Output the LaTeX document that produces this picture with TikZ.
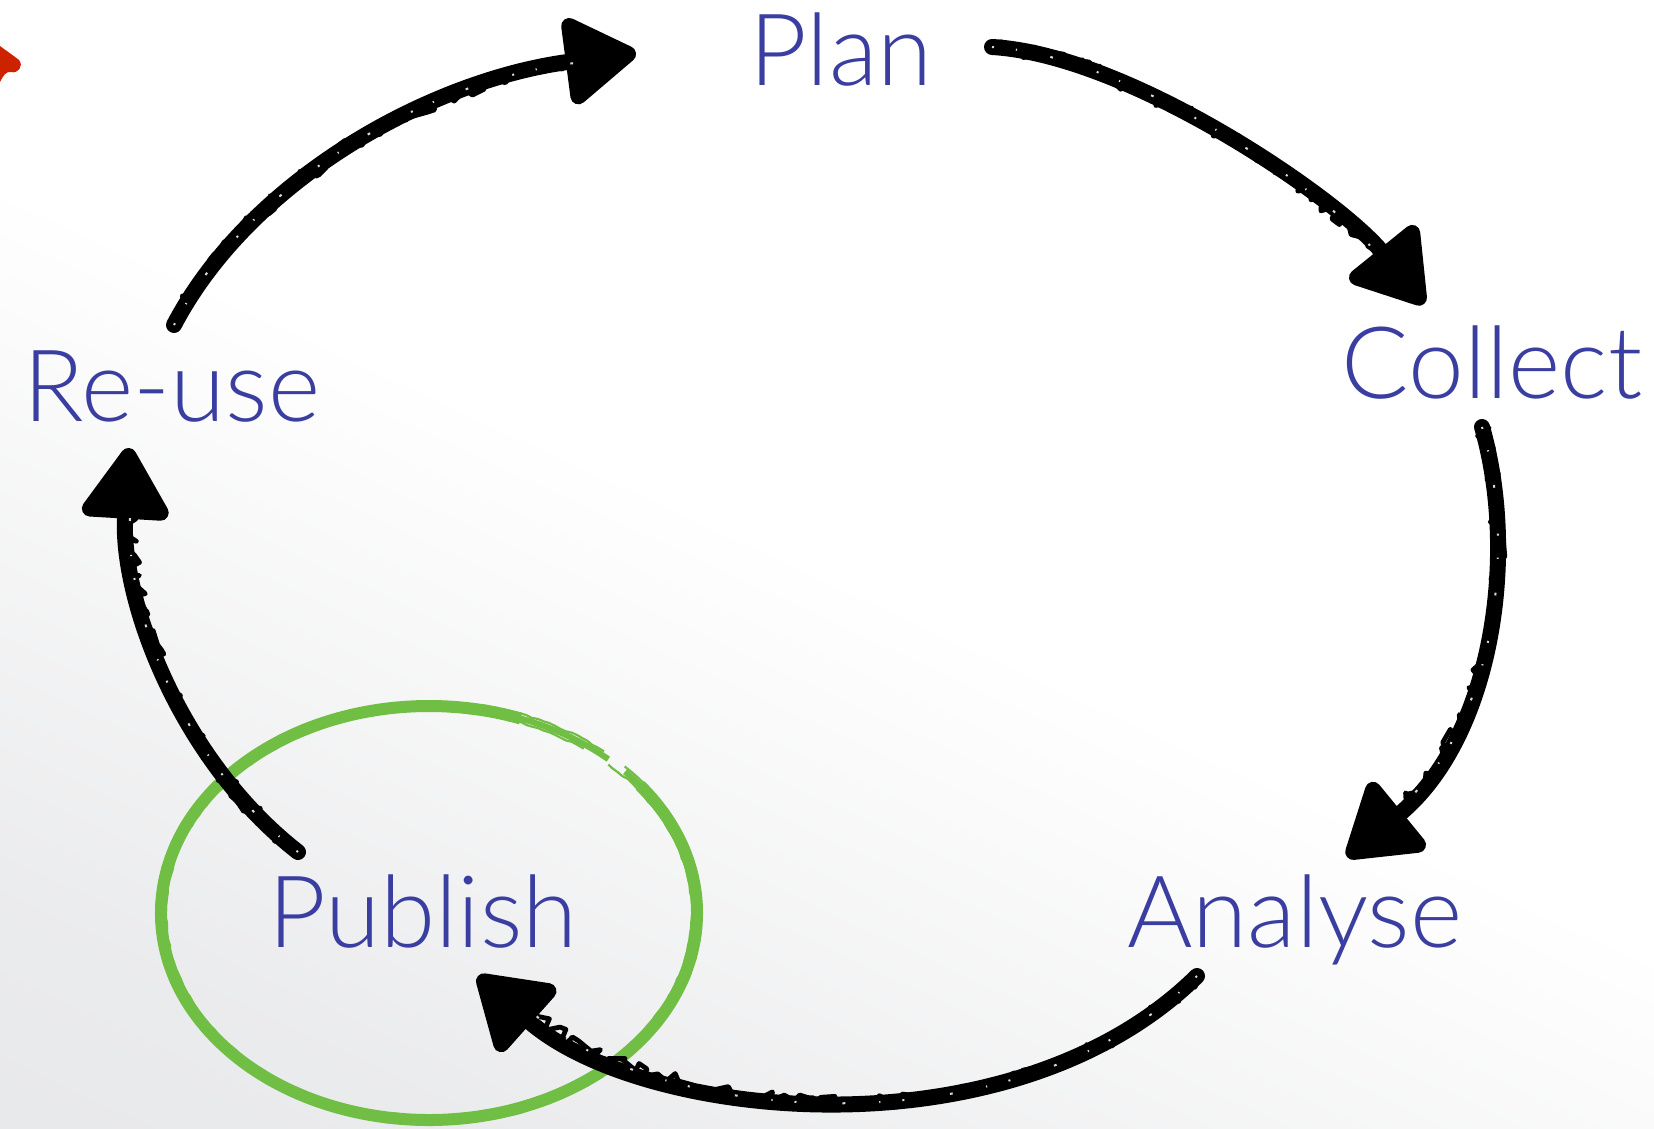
\documentclass[tikz,border=0pt]{standalone}
\usepackage{fontspec}
\IfFontExistsTF{Lato Light}{\setmainfont{Lato Light}}{\setmainfont{Lato}}
\usetikzlibrary{arrows.meta,decorations.pathmorphing}

\definecolor{labelblue}{RGB}{58,62,160}
\definecolor{markgreen}{RGB}{112,190,68}
\definecolor{markred}{RGB}{204,34,0}
\definecolor{bggray}{RGB}{226,227,229}

% backdrop: grey in the lower part, white above
\pgfdeclareverticalshading{backdrop}{100bp}{%
  color(0bp)=(bggray); color(25bp)=(bggray!70!white);
  color(50bp)=(white); color(100bp)=(white)}

\begin{document}
\begin{tikzpicture}[x=0.5pt,y=-0.5pt,
  stage/.style={font=\fontsize{50}{50}\selectfont, text=labelblue, inner sep=0pt, anchor=base},
  chalk/.style={line width=8pt, line cap=round, line join=round,
    -{Triangle[length=39pt,width=48pt,round]}},
  grit/.style={line width=2.4pt, line cap=round, line join=round, decorate,
    decoration={random steps, segment length=3pt, amplitude=3.6pt}},
  speck/.style={draw=white, line width=1pt, opacity=.85,
    dash pattern=on 1pt off 11pt on 0.6pt off 17pt on 1.4pt off 23pt},
  ring/.style={draw=markgreen, line width=6pt},
  strand/.style={draw=markgreen, line width=1.1pt, decorate,
    decoration={random steps, segment length=3pt, amplitude=0.4pt}},
]
\useasboundingbox (0,0) rectangle (1654,1129);
\shade[shading=backdrop, shading angle=-25] (0,0) rectangle (1654,1129);

% red mark in the corner
\fill[markred] (0,46) .. controls (8,52) and (14,56) .. (19,60)
  .. controls (24,66) and (18,74) .. (11,72)
  .. controls (6,71) and (3,76) .. (0,82) -- cycle;

% stages of the cycle
\node[stage] (plan)    at (841,86)   {Plan};
\node[stage] (collect) at (1492,398) {Collect};
\node[stage] (analyse) at (1295,947) {Analyse};
\node[stage] (publish) at (423,947)  {Publish};
\node[stage] (reuse)   at (172,421)  {Re-use};

% ring round Publish: a brush stroke that thins out and breaks at the upper right
\draw[ring] ([shift={(6,-34)}]publish.base) ++(-38:268 and 207)
  arc [start angle=-38, end angle=290, x radius=268, y radius=207];
\draw[ring, line width=3pt] ([shift={(6,-34)}]publish.base) ++(288:268 and 207)
  arc [start angle=288, end angle=312, x radius=268, y radius=207];
\draw[ring, line width=3pt] ([shift={(6,-34)}]publish.base) ++(-43:268 and 207)
  arc [start angle=-43, end angle=-36, x radius=268, y radius=207];
\draw[strand] ([shift={(6,-34)}]publish.base) ++(-44:272 and 211)
  arc [start angle=-44, end angle=310, x radius=272, y radius=211];
\draw[strand] ([shift={(6,-34)}]publish.base) ++(-47:263 and 203)
  arc [start angle=-47, end angle=306, x radius=263, y radius=203];

% chalk arrows between the stages
\pgfmathsetseed{7}
\draw[chalk] ([shift={(2,-96)}]reuse.base) .. controls (250,180) and (430,80) .. ([shift={(-205,-33)}]plan.base);
\draw[grit] ([shift={(2,-96)}]reuse.base) .. controls (250,180) and (430,80) .. (585,62);
\draw[speck] ([shift={(2,-96)}]reuse.base) .. controls (250,180) and (430,80) .. (575,63);

\draw[chalk] ([shift={(151,-39)}]plan.base) .. controls (1130,55) and (1340,200) .. ([shift={(-68,-94)}]collect.base);
\draw[grit] ([shift={(151,-39)}]plan.base) .. controls (1130,55) and (1340,200) .. (1390,268);
\draw[speck] ([shift={(151,-39)}]plan.base) .. controls (1130,55) and (1340,200) .. (1380,258);

\draw[chalk] ([shift={(-10,29)}]collect.base) .. controls (1520,560) and (1490,740) .. ([shift={(52,-90)}]analyse.base);
\draw[grit] ([shift={(-10,29)}]collect.base) .. controls (1520,560) and (1490,740) .. (1380,826);
\draw[speck] ([shift={(-10,29)}]collect.base) .. controls (1520,560) and (1490,740) .. (1390,815);

\draw[chalk] ([shift={(-98,29)}]analyse.base) .. controls (1010,1160) and (640,1120) .. ([shift={(55,29)}]publish.base);
\draw[grit] ([shift={(-98,29)}]analyse.base) .. controls (1010,1160) and (640,1120) .. (515,1000);
\draw[speck] ([shift={(-98,29)}]analyse.base) .. controls (1010,1160) and (640,1120) .. (530,1010);

\draw[chalk] ([shift={(-125,-95)}]publish.base) .. controls (180,760) and (120,600) .. ([shift={(-43,27)}]reuse.base);
\draw[grit] ([shift={(-125,-95)}]publish.base) .. controls (180,760) and (120,600) .. (130,490);
\draw[speck] ([shift={(-125,-95)}]publish.base) .. controls (180,760) and (120,600) .. (131,505);
\end{tikzpicture}
\end{document}
